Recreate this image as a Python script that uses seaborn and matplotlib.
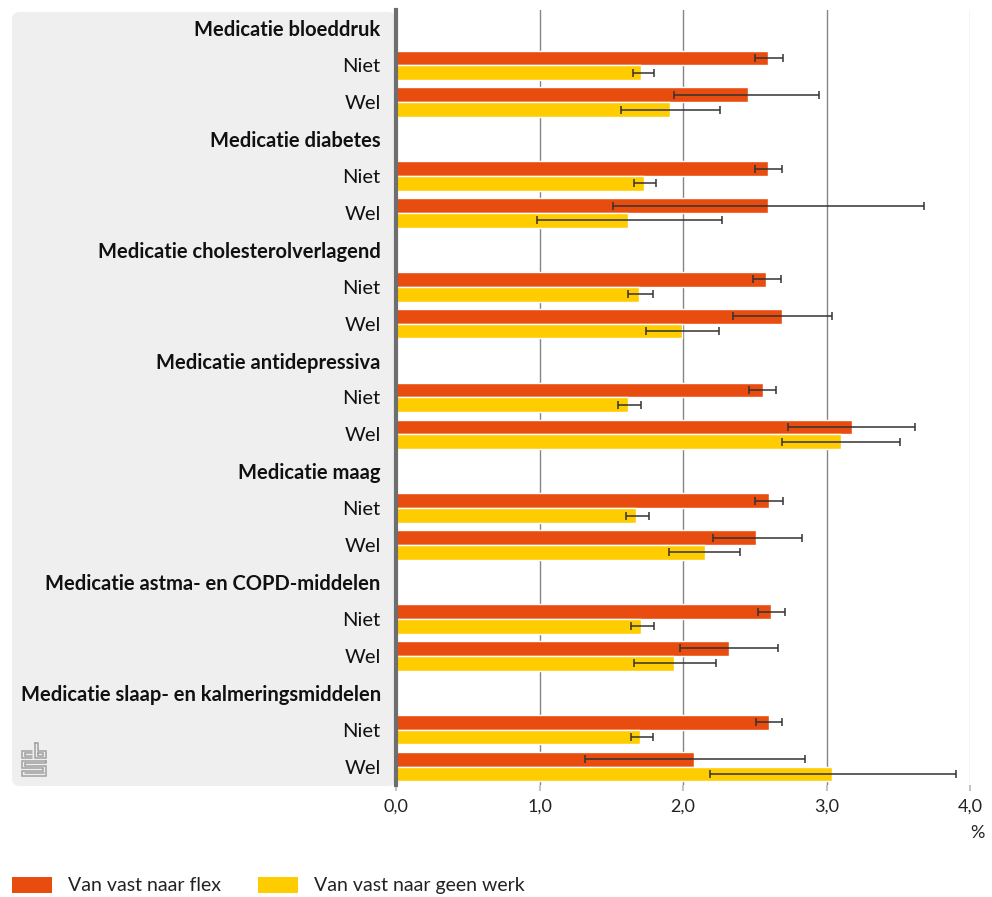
import numpy as np
import pandas as pd
import seaborn as sns
import matplotlib.pyplot as plt
from matplotlib.patches import FancyBboxPatch, Rectangle

# --- data -------------------------------------------------------------
groepen = [
    "Medicatie bloeddruk",
    "Medicatie diabetes",
    "Medicatie cholesterolverlagend",
    "Medicatie antidepressiva",
    "Medicatie maag",
    "Medicatie astma- en COPD-middelen",
    "Medicatie slaap- en kalmeringsmiddelen",
]
subgroepen = ["Niet", "Wel"]
reeksen = ["Van vast naar flex", "Van vast naar geen werk"]

# percentages per group: (Niet, Wel)
flex = [2.59, 2.45, 2.59, 2.59, 2.58, 2.69, 2.56, 3.18, 2.60, 2.51, 2.61, 2.32, 2.60, 2.08]
flex_laag = [2.50, 1.94, 2.50, 1.51, 2.49, 2.35, 2.46, 2.73, 2.50, 2.21, 2.52, 1.98, 2.51, 1.32]
flex_hoog = [2.70, 2.95, 2.69, 3.68, 2.68, 3.04, 2.65, 3.62, 2.70, 2.83, 2.71, 2.66, 2.69, 2.85]

geen_werk = [1.71, 1.91, 1.73, 1.62, 1.69, 1.99, 1.62, 3.10, 1.67, 2.15, 1.71, 1.94, 1.70, 3.04]
geen_werk_laag = [1.65, 1.57, 1.66, 0.98, 1.62, 1.74, 1.55, 2.69, 1.60, 1.90, 1.64, 1.66, 1.64, 2.19]
geen_werk_hoog = [1.80, 2.26, 1.81, 2.27, 1.79, 2.25, 1.71, 3.51, 1.76, 2.40, 1.80, 2.23, 1.79, 3.90]

x_ticks = [0, 1, 2, 3, 4]
x_labels = ["0,0", "1,0", "2,0", "3,0", "4,0"]

kleuren = ["#E84C0E", "#FFCC00"]

# --- build long table with one category per row (group header + subrows)
volgorde, labels, is_kop = [], [], []
for g in groepen:
    volgorde.append(g)
    labels.append(g)
    is_kop.append(True)
    for s in subgroepen:
        volgorde.append(f"{g}|{s}")
        labels.append(s)
        is_kop.append(False)

rijen = []
i = 0
for g in groepen:
    for s in subgroepen:
        rijen.append(dict(rij=f"{g}|{s}", reeks=reeksen[0], waarde=flex[i],
                          laag=flex_laag[i], hoog=flex_hoog[i]))
        rijen.append(dict(rij=f"{g}|{s}", reeks=reeksen[1], waarde=geen_werk[i],
                          laag=geen_werk_laag[i], hoog=geen_werk_hoog[i]))
        i += 1
df = pd.DataFrame(rijen)

# --- figure -----------------------------------------------------------
sns.set_theme(style="white")
plt.rcParams["font.family"] = ["Lato", "DejaVu Sans"]

W, H = 992, 897
fig = plt.figure(figsize=(W / 100, H / 100), dpi=100)


def fx(px):
    return px / W


def fy(py):
    return 1 - py / H


ax = fig.add_axes([fx(396), fy(785), fx(970) - fx(396), fy(10) - fy(785)])

# grey label panel behind the category names
paneel = FancyBboxPatch((fx(12), fy(786)), fx(396) - fx(12), fy(12) - fy(786),
                        boxstyle="round,pad=0,rounding_size=0.008",
                        transform=fig.transFigure, facecolor="#EFEFEF",
                        edgecolor="none", zorder=-5)
fig.patches.append(paneel)

sns.barplot(data=df, x="waarde", y="rij", hue="reeks", order=volgorde,
            hue_order=reeksen, palette=kleuren, orient="h", width=0.8,
            errorbar=None, saturation=1, legend=False, ax=ax, zorder=2)

# confidence intervals
pos = {r: k for k, r in enumerate(volgorde)}
offset = {reeksen[0]: -0.2, reeksen[1]: 0.2}
for _, r in df.iterrows():
    y = pos[r["rij"]] + offset[r["reeks"]]
    ax.errorbar(r["waarde"], y,
                xerr=[[r["waarde"] - r["laag"]], [r["hoog"] - r["waarde"]]],
                fmt="none", ecolor="#333333", elinewidth=1.1, capsize=3.2,
                capthick=1.1, zorder=3)

ax.set_xlim(0, 4)
ax.set_ylim(len(volgorde) - 0.5, -0.5)
ax.set_xlabel("")
ax.set_ylabel("")

ax.set_xticks(x_ticks)
ax.set_xticklabels(x_labels, fontsize=13, color="#222222")
ax.set_yticks(range(len(volgorde)))
ax.set_yticklabels(labels, fontsize=14.5, color="#111111")
for lab, kop in zip(ax.get_yticklabels(), is_kop):
    if kop:
        lab.set_fontweight("bold")

ax.tick_params(axis="y", length=0, pad=11)
ax.tick_params(axis="x", length=4, color="#BBBBBB", pad=6, bottom=True)

ax.grid(axis="x", color="#858585", linewidth=1.0, zorder=0)
ax.grid(axis="y", visible=False)
ax.set_axisbelow(True)
gl = ax.xaxis.get_gridlines()
gl[-1].set_color("#CCCCCC")
gl[0].set_visible(False)

for side in ["top", "right", "bottom"]:
    ax.spines[side].set_visible(False)
ax.spines["left"].set_color("#6E6E6E")
ax.spines["left"].set_linewidth(3.0)
ax.spines["left"].set_zorder(4)

fig.text(fx(985), fy(833), "%", ha="right", va="center", fontsize=13,
         color="#222222")

# legend
for x0, kleur, tekst in [(12, kleuren[0], reeksen[0]), (258, kleuren[1], reeksen[1])]:
    fig.patches.append(Rectangle((fx(x0), fy(893)), fx(40), fy(877) - fy(893),
                                 transform=fig.transFigure, facecolor=kleur,
                                 edgecolor="none"))
    fig.text(fx(x0 + 56), fy(885), tekst, ha="left", va="center", fontsize=14,
             color="#222222")

# small CBS mark in the panel
lax = fig.add_axes([fx(21), fy(777), fx(26), fy(742) - fy(777)])
lax.set_xlim(0, 10)
lax.set_ylim(0, 14)
lax.axis("off")
c = "#A0A0A0"
lw = 1.1
segmenten = [
    # c
    [(4.2, 10.5), (0.5, 10.5), (0.5, 7.5), (4.2, 7.5)],
    [(4.2, 9.5), (1.5, 9.5), (1.5, 8.5), (4.2, 8.5)],
    # b
    [(5.5, 13.5), (5.5, 7.5), (9.5, 7.5), (9.5, 10.5), (6.5, 10.5), (6.5, 13.5), (5.5, 13.5)],
    [(6.5, 9.5), (8.5, 9.5), (8.5, 8.5), (6.5, 8.5), (6.5, 9.5)],
    # s
    [(9.5, 6.5), (0.5, 6.5), (0.5, 3.5), (8.5, 3.5), (8.5, 2.5), (0.5, 2.5), (0.5, 0.5), (9.5, 0.5),
     (9.5, 4.5), (1.5, 4.5), (1.5, 5.5), (9.5, 5.5), (9.5, 6.5)],
    [(1.5, 1.5), (9.0, 1.5)],
]
for seg in segmenten:
    xs, ys = zip(*seg)
    lax.plot(xs, ys, color=c, linewidth=lw, solid_joinstyle="miter")

fig.savefig("out.png", dpi=100)
